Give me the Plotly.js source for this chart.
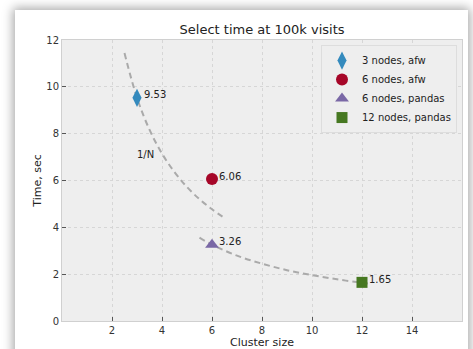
<!DOCTYPE html>
<html>
<head>
<meta charset="utf-8">
<script src="https://cdn.plot.ly/plotly-3.0.1.min.js"></script>
<style>
html,body{margin:0;padding:0;background:#ffffff;width:473px;height:349px;overflow:hidden;}
#card{position:absolute;left:15px;top:10px;width:453px;height:400px;background:#fff;box-shadow:0 0 10px 2px rgba(0,0,0,0.35);}
#chart{position:absolute;left:0;top:0;width:473px;height:349px;}
</style>
</head>
<body>
<div id="card"></div>
<div id="chart"></div>
<script>
// Data
const seriesNames = ["3 nodes, afw", "6 nodes, afw", "6 nodes, pandas", "12 nodes, pandas"];
const clusterSize = [3, 6, 6, 12];
const timeSec = [9.53, 6.06, 3.26, 1.65];
const markerSymbols = ["diamond-tall", "circle", "triangle-up", "square"];
const markerColors = ["#348ABD", "#A60628", "#7A68A6", "#467821"];
const markerSizes = [13, 12, 12, 11];

// 1/N guide curves
const curve1X = [2.5, 3, 3.5, 4, 4.5, 5, 5.5, 6, 6.5];
const curve1Y = [11.44, 9.53, 8.17, 7.15, 6.36, 5.72, 5.2, 4.77, 4.4];
const curve2X = [5.5, 6, 7, 8, 9, 10, 11, 12, 12.3];
const curve2Y = [3.56, 3.26, 2.79, 2.45, 2.17, 1.96, 1.78, 1.63, 1.59];

const xTicks = [2, 4, 6, 8, 10, 12, 14];
const yTicks = [0, 2, 4, 6, 8, 10, 12];

const dashLine = {color: "#aaaaaa", width: 2, dash: "6px,4px", shape: "spline"};
const traces = [
  {x: curve1X, y: curve1Y, mode: "lines", line: dashLine, showlegend: false, hoverinfo: "skip"},
  {x: curve2X, y: curve2Y, mode: "lines", line: dashLine, showlegend: false, hoverinfo: "skip"}
];
for (let i = 0; i < seriesNames.length; i++) {
  traces.push({
    x: [clusterSize[i]], y: [timeSec[i]], mode: "markers", name: seriesNames[i],
    marker: {symbol: markerSymbols[i], color: markerColors[i], size: markerSizes[i], line: {width: 0}}
  });
}

const annotations = clusterSize.map((x, i) => ({
  x: x, y: timeSec[i], xref: "x", yref: "y", text: timeSec[i].toFixed(2),
  showarrow: false, xanchor: "left", yanchor: "middle", xshift: 5, yshift: 3,
  font: {family: "DejaVu Sans", size: 10, color: "#222"}
}));
annotations.push({x: 3.32, y: 7.13, xref: "x", yref: "y", text: "1/N", showarrow: false,
  font: {family: "DejaVu Sans", size: 10, color: "#222"}});

const axisCommon = {
  showgrid: true, gridcolor: "#d6d6d6", griddash: "dot", gridwidth: 1,
  zeroline: false, showline: true, linecolor: "#d0d0d0", linewidth: 1, mirror: true,
  ticks: "inside", ticklen: 4, tickcolor: "#555", tickwidth: 1,
  tickfont: {family: "DejaVu Sans", size: 10, color: "#333"}
};

const layout = {
  width: 473, height: 349,
  margin: {l: 62, r: 11, t: 40, b: 28, autoexpand: false},
  paper_bgcolor: "rgba(0,0,0,0)",
  plot_bgcolor: "#eeeeee",
  font: {family: "DejaVu Sans", color: "#222"},
  title: {text: "Select time at 100k visits", x: 0.554, xanchor: "center", y: 0.915, yanchor: "middle",
          font: {family: "DejaVu Sans", size: 13, color: "#222"}},
  xaxis: Object.assign({}, axisCommon, {range: [0, 16], tickvals: xTicks,
    title: {text: "Cluster size", standoff: 4, font: {family: "DejaVu Sans", size: 11, color: "#222"}}}),
  yaxis: Object.assign({}, axisCommon, {range: [0, 12], tickvals: yTicks,
    title: {text: "Time, sec", standoff: 2, font: {family: "DejaVu Sans", size: 11, color: "#222"}}}),
  legend: {x: 0.9875, y: 0.982, xanchor: "right", yanchor: "top", bgcolor: "#eeeeee",
    bordercolor: "#dddddd", borderwidth: 1, font: {family: "DejaVu Sans", size: 10, color: "#222"},
    itemwidth: 30, tracegroupgap: 0},
  annotations: annotations,
  showlegend: true
};

Plotly.newPlot("chart", traces, layout, {displayModeBar: false, staticPlot: true});
</script>
</body>
</html>
